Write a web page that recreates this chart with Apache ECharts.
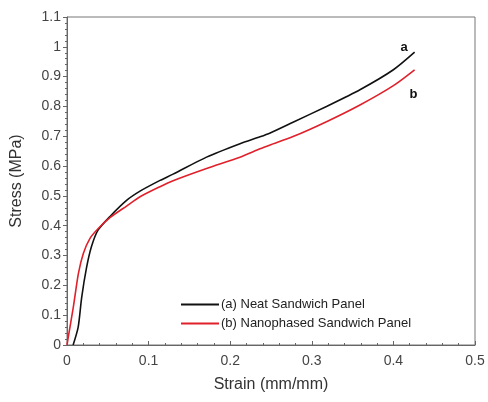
<!DOCTYPE html>
<html>
<head>
<meta charset="utf-8">
<script src="https://cdn.jsdelivr.net/npm/echarts@6/dist/echarts.min.js"></script>
<style>html,body{margin:0;padding:0;background:#fff;}#c{width:488px;height:402px;}</style>
</head>
<body>
<div id="c"></div>
<script>
// Strain (mm/mm) vs Stress (MPa)
var strainA = [0.0075, 0.0137, 0.018, 0.024, 0.030, 0.038, 0.053, 0.073, 0.0895, 0.114, 0.130, 0.171, 0.212, 0.2365, 0.249, 0.277, 0.318, 0.359, 0.400, 0.426];
var stressA = [0, 0.06, 0.16, 0.26, 0.33, 0.385, 0.432, 0.485, 0.516, 0.552, 0.573, 0.630, 0.675, 0.698, 0.711, 0.747, 0.80, 0.856, 0.923, 0.982];
var strainB = [0.0, 0.0016, 0.0078, 0.014, 0.020, 0.028, 0.038, 0.053, 0.073, 0.0895, 0.114, 0.130, 0.171, 0.212, 0.2365, 0.249, 0.277, 0.318, 0.359, 0.400, 0.426];
var stressB = [0.0, 0.027, 0.128, 0.24, 0.307, 0.357, 0.39, 0.428, 0.466, 0.497, 0.531, 0.551, 0.592, 0.630, 0.658, 0.671, 0.699, 0.749, 0.805, 0.870, 0.923];
var seriesNames = ['(a) Neat Sandwich Panel', '(b) Nanophased Sandwich Panel'];
var curveLabels = ['a', 'b'];

function pairs(xs, ys) { return xs.map(function (x, i) { return [x, ys[i]]; }); }

var chart = echarts.init(document.getElementById('c'), null, {renderer: 'canvas'});
var font = 'Liberation Sans, Arial, sans-serif';
chart.setOption({
  animation: false,
  backgroundColor: '#fff',
  grid: {left: 67, right: 13, top: 17, bottom: 57, show: true, borderColor: '#777', borderWidth: 1},
  legend: {
    data: seriesNames,
    orient: 'vertical',
    left: 176, top: 293,
    itemWidth: 38, itemHeight: 2, itemGap: 6,
    icon: 'rect',
    textStyle: {fontFamily: font, fontSize: 13, color: '#222', padding: [0, 0, 0, -3]}
  },
  xAxis: {
    type: 'value', min: 0, max: 0.5, interval: 0.1,
    name: 'Strain (mm/mm)', nameLocation: 'middle', nameGap: 32,
    nameTextStyle: {fontFamily: font, fontSize: 16, color: '#333'},
    axisLine: {lineStyle: {color: '#666'}},
    axisTick: {inside: true, length: 4, lineStyle: {color: '#666'}},
    minorTick: {show: true, splitNumber: 5, length: 2, lineStyle: {color: '#666'}},
    axisLabel: {fontFamily: font, fontSize: 14, color: '#444', margin: 9},
    splitLine: {show: false}
  },
  yAxis: {
    type: 'value', min: 0, max: 1.1, interval: 0.1,
    name: 'Stress (MPa)', nameLocation: 'middle', nameGap: 42, nameRotate: 90,
    nameTextStyle: {fontFamily: font, fontSize: 16, color: '#333'},
    axisLine: {lineStyle: {color: '#666'}},
    axisTick: {inside: false, length: 4, lineStyle: {color: '#666'}},
    minorTick: {show: true, splitNumber: 5, length: 2, lineStyle: {color: '#666'}},
    axisLabel: {fontFamily: font, fontSize: 14, color: '#444', margin: 6},
    splitLine: {show: false}
  },
  series: [
    {
      name: seriesNames[0], type: 'line', data: pairs(strainA, stressA),
      showSymbol: false, smooth: 0.25, lineStyle: {color: '#111', width: 1.6}, itemStyle: {color: '#111'},
      endLabel: {show: true, formatter: curveLabels[0], offset: [-22, -5], fontFamily: font, fontSize: 13, fontWeight: 'bold', color: '#111'}
    },
    {
      name: seriesNames[1], type: 'line', data: pairs(strainB, stressB),
      showSymbol: false, smooth: 0.25, lineStyle: {color: '#e0202a', width: 1.6}, itemStyle: {color: '#e0202a'},
      endLabel: {show: true, formatter: curveLabels[1], offset: [-13, 25], fontFamily: font, fontSize: 13, fontWeight: 'bold', color: '#111'}
    }
  ]
});
</script>
</body>
</html>
